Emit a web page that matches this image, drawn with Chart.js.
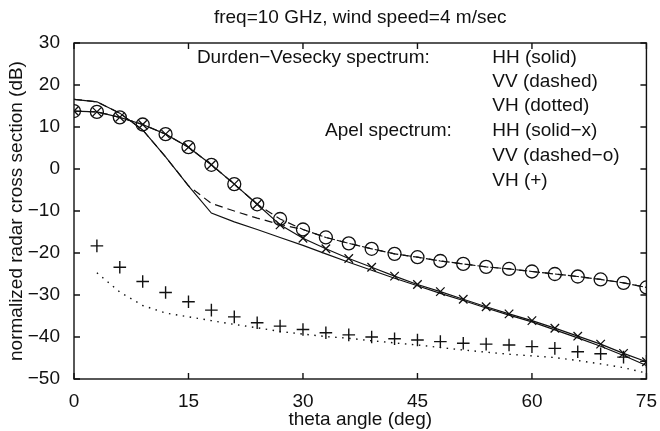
<!DOCTYPE html>
<html>
<head>
<meta charset="utf-8">
<script src="https://cdn.jsdelivr.net/npm/chart.js@4/dist/chart.umd.min.js"></script>
<style>
  html, body { margin: 0; padding: 0; background: #fff; }
  #wrap { width: 660px; height: 431px; }
</style>
</head>
<body>
<div id="wrap"><canvas id="c" width="660" height="431"></canvas></div>
<script>
// incidence angle, every 3 degrees
const theta = [0, 3, 6, 9, 12, 15, 18, 21, 24, 27, 30, 33, 36, 39, 42, 45, 48, 51, 54, 57, 60, 63, 66, 69, 72, 75];

// Durden-Vesecky spectrum
const dvHH = [16.6, 16.0, 13.3, 9.3, 2.9, -4.0, -10.5, -12.6, -14.4, -16.3, -18.2, -20.2, -22.2, -24.1, -26.0, -27.8, -29.6, -31.3, -33.1, -34.8, -36.4, -38.3, -40.2, -42.2, -44.4, -46.8];
const dvVV = [16.6, 16.0, 13.3, 9.3, 2.9, -4.0, -8.2, -10.0, -11.7, -13.2, -14.4, -16.3, -17.7, -19.0, -20.2, -21.0, -21.9, -22.6, -23.3, -23.8, -24.4, -25.0, -25.6, -26.3, -27.1, -28.2];
const dvVH = [null, -24.7, -29.3, -32.5, -34.3, -35.2, -36.1, -37.0, -37.8, -38.7, -39.3, -39.9, -40.3, -40.9, -41.4, -41.9, -42.5, -43.1, -43.6, -44.1, -44.5, -44.9, -45.6, -46.4, -47.3, -48.6];

// Apel spectrum
const apHH = [13.8, 13.6, 12.3, 10.6, 8.3, 5.2, 1.0, -3.6, -8.4, -13.3, -16.5, -19.0, -21.3, -23.4, -25.5, -27.5, -29.2, -31.0, -32.8, -34.5, -36.1, -37.9, -39.8, -41.7, -43.9, -45.9];
const apVV = [13.8, 13.6, 12.3, 10.6, 8.3, 5.2, 1.0, -3.6, -8.4, -11.9, -14.4, -16.3, -17.7, -19.0, -20.2, -21.0, -21.9, -22.6, -23.3, -23.8, -24.4, -25.0, -25.6, -26.3, -27.1, -28.2];
const apVH = [null, -18.3, -23.4, -26.8, -29.4, -31.6, -33.6, -35.2, -36.6, -37.4, -38.2, -39.0, -39.5, -40.0, -40.4, -40.7, -41.1, -41.5, -41.7, -41.9, -42.3, -42.7, -43.5, -44.0, -44.8, -45.8];

const xTicks = [0, 15, 30, 45, 60, 75];
const yTicks = [-50, -40, -30, -20, -10, 0, 10, 20, 30];

const titleText = 'freq=10 GHz, wind speed=4 m/sec';
// annotation text: [theta, dB, label]
const notes = [
  [16.1, 26.4, 'Durden\u2212Vesecky spectrum:'],
  [54.8, 26.4, 'HH (solid)'],
  [54.8, 20.7, 'VV (dashed)'],
  [54.8, 15.0, 'VH (dotted)'],
  [32.9, 9.0, 'Apel spectrum:'],
  [54.8, 9.0, 'HH (solid\u2212x)'],
  [54.8, 3.1, 'VV (dashed\u2212o)'],
  [54.8, -2.9, 'VH (+)']
];

const INK = '#111';
const FONT = '"Liberation Sans", Arial, sans-serif';

const pts = (ys) => theta.map((t, i) => ({ x: t, y: ys[i] }));

function series(label, ys, extra) {
  return Object.assign({
    label,
    data: pts(ys),
    borderColor: INK,
    backgroundColor: 'transparent',
    borderWidth: 1.2,
    pointRadius: 0,
    tension: 0,
    spanGaps: false
  }, extra);
}

const frame = {
  id: 'frame',
  afterDraw(chart) {
    const { ctx, chartArea: a, scales: { x, y } } = chart;
    ctx.save();
    ctx.strokeStyle = INK;
    ctx.lineWidth = 1.4;
    ctx.strokeRect(a.left, a.top, a.right - a.left, a.bottom - a.top);
    ctx.beginPath();
    const tl = 6;
    xTicks.forEach(v => {
      const px = x.getPixelForValue(v);
      ctx.moveTo(px, a.bottom); ctx.lineTo(px, a.bottom - tl);
      ctx.moveTo(px, a.top); ctx.lineTo(px, a.top + tl);
    });
    yTicks.forEach(v => {
      const py = y.getPixelForValue(v);
      ctx.moveTo(a.left, py); ctx.lineTo(a.left + tl, py);
      ctx.moveTo(a.right, py); ctx.lineTo(a.right - tl, py);
    });
    ctx.stroke();

    ctx.fillStyle = INK;
    ctx.font = '19px ' + FONT;
    ctx.textAlign = 'center';
    ctx.textBaseline = 'middle';
    ctx.fillText(titleText, (a.left + a.right) / 2, 18);

    ctx.textAlign = 'left';
    notes.forEach(([t, v, s]) => {
      ctx.fillText(s, x.getPixelForValue(t), y.getPixelForValue(v));
    });
    ctx.restore();
  }
};

new Chart(document.getElementById('c'), {
  type: 'line',
  data: {
    datasets: [
      series('D-V HH', dvHH),
      series('D-V VV', dvVV, { borderDash: [8, 5] }),
      series('D-V VH', dvVH, { borderDash: [1.5, 5.5], borderWidth: 1.4 }),
      series('Apel HH', apHH, { pointStyle: 'crossRot', pointRadius: 6, pointBorderWidth: 1.3, pointBorderColor: INK }),
      series('Apel VV', apVV, { borderDash: [8, 5], pointStyle: 'circle', pointRadius: 6.5, pointBorderWidth: 1.3, pointBorderColor: INK, pointBackgroundColor: 'transparent' }),
      series('Apel VH', apVH, { showLine: false, pointStyle: 'cross', pointRadius: 6.3, pointBorderWidth: 1.4, pointBorderColor: INK })
    ]
  },
  options: {
    responsive: false,
    animation: false,
    devicePixelRatio: 1,
    layout: { padding: { top: 43, right: 10, left: 0, bottom: 0 } },
    plugins: { legend: { display: false }, title: { display: false }, tooltip: { enabled: false } },
    scales: {
      x: {
        type: 'linear', min: 0, max: 75,
        afterBuildTicks: (s) => { s.ticks = xTicks.map(v => ({ value: v })); },
        afterFit: (s) => { s.height = 52; },
        grid: { display: false },
        border: { display: false },
        ticks: { color: INK, font: { family: FONT, size: 19 }, padding: 3, maxRotation: 0 },
        title: { display: true, text: 'theta angle (deg)', color: INK, font: { family: FONT, size: 19 }, padding: { top: 0, bottom: 0 } }
      },
      y: {
        type: 'linear', min: -50, max: 30,
        afterBuildTicks: (s) => { s.ticks = yTicks.map(v => ({ value: v })); },
        afterFit: (s) => { s.width = 74; },
        grid: { display: false },
        border: { display: false },
        ticks: { color: INK, font: { family: FONT, size: 19 }, padding: 6,
          callback: (v) => (v < 0 ? '\u2212' + Math.abs(v) : String(v)) },
        title: { display: true, text: 'normalized radar cross section (dB)', color: INK, font: { family: FONT, size: 19 }, padding: { top: 5, bottom: 0 } }
      }
    }
  },
  plugins: [frame]
});
</script>
</body>
</html>
